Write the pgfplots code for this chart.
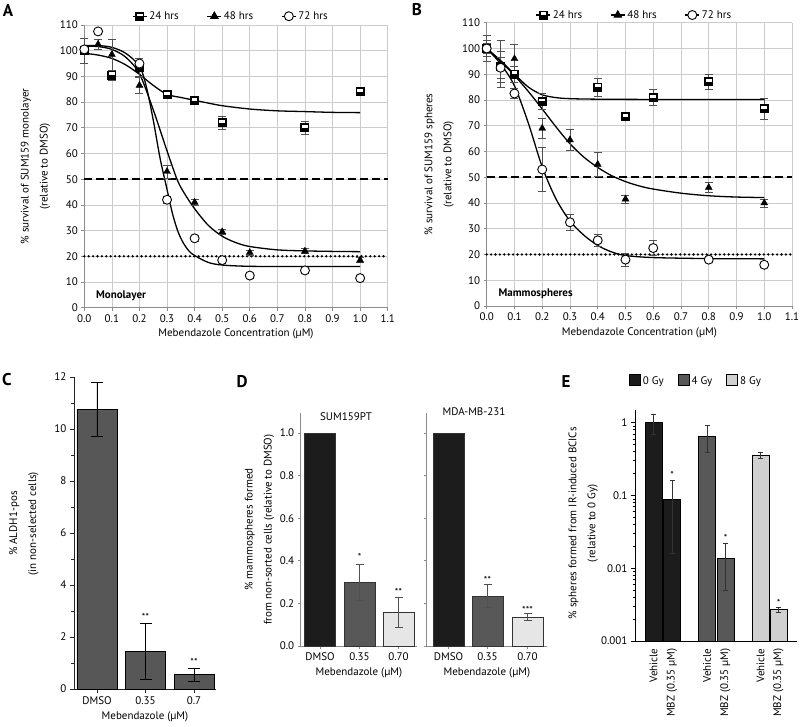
\documentclass[border=0pt]{standalone}
\usepackage{fontspec}
\setmainfont{PT Sans}
\usepackage{pgfplots}
\pgfplotsset{compat=1.18}
\definecolor{gridc}{HTML}{CCCCCC}
\definecolor{axc}{HTML}{8C8C8C}
\definecolor{errc}{HTML}{505050}
\definecolor{barblk}{HTML}{1C1C1C}
\definecolor{bardk}{HTML}{585858}
\definecolor{barlt}{HTML}{E6E6E6}
\definecolor{barmd}{HTML}{D0D0D0}
\definecolor{cbar}{HTML}{575757}

\pgfdeclareplotmark{halfsq}{%
  \pgfpathrectangle{\pgfpoint{-\pgfplotmarksize}{-\pgfplotmarksize}}{\pgfpoint{2\pgfplotmarksize}{2\pgfplotmarksize}}%
  \pgfsetfillcolor{black}\pgfusepath{fill}%
  \pgfpathrectangle{\pgfpoint{-0.62\pgfplotmarksize}{-0.05\pgfplotmarksize}}{\pgfpoint{1.24\pgfplotmarksize}{0.65\pgfplotmarksize}}%
  \pgfsetfillcolor{white}\pgfusepath{fill}%
}

\pgfkeys{/pgf/number format/assume math mode=true}

\pgfplotsset{
  base/.style={scale only axis, anchor=south west, clip=false,
    tick label style={font=\fontsize{11}{13}\selectfont},
    label style={font=\fontsize{11}{19}\selectfont},
    tick align=outside},
  curve/.style={black, line width=1.3pt, smooth, forget plot},
  ebar/.style={error bars/y dir=both, error bars/y explicit,
    error bars/error bar style={errc, line width=0.6pt},
    error bars/error mark options={errc, line width=0.6pt, mark size=4pt, rotate=90}},
  m24/.style={only marks, mark=halfsq, mark size=4.5pt, forget plot, ebar},
  m48/.style={only marks, mark=triangle*, mark size=4pt, mark options={fill=black, draw=black}, forget plot, ebar},
  m72/.style={only marks, mark=*, mark size=4.5pt, mark options={fill=white, draw=black, line width=0.9pt}, forget plot, ebar},
  dose/.style={base, xmin=0, xmax=1.1, ymin=0, ymax=110,
    xtick={0,0.1,0.2,0.3,0.4,0.5,0.6,0.7,0.8,0.9,1.0,1.1},
    ytick={0,10,20,30,40,50,60,70,80,90,100,110},
    xticklabel style={/pgf/number format/.cd, fixed, fixed zerofill, precision=1},
    grid=major, grid style={gridc, line width=0.7pt},
    axis x line*=bottom, axis y line*=left,
    axis line style={axc, line width=0.9pt},
    tick style={axc, line width=0.7pt}, major tick length=3pt,
    xlabel={Mebendazole Concentration (µM)},
    legend style={draw=none, fill=none, legend columns=3, anchor=center,
      font=\fontsize{11}{13}\selectfont,
      /tikz/every even column/.append style={column sep=26pt}},
    legend image code/.code={\draw[mark repeat=2, mark phase=2, ##1] plot coordinates {(0pt,0pt) (7pt,0pt) (14pt,0pt)};},
  },
  barax/.style={base, axis x line*=bottom, axis y line*=left,
    ymin=0},
  bebar/.style={error bars/y dir=both, error bars/y explicit,
    error bars/error bar style={#1},
    error bars/error mark options={#1, rotate=90}},
}

\begin{document}
\begin{tikzpicture}[x=1pt,y=1pt]
\path[use as bounding box] (0,0) rectangle (800,727);

% ---------------- A ----------------
\begin{axis}[dose, at={(84.3pt,419.3pt)}, width=303.4pt, height=282.7pt,
  ylabel={\% survival of SUM159 monolayer\\(relative to DMSO)},
  ylabel style={align=center, at={(axis description cs:-0.161,0.5)}, anchor=center},
  legend style={at={(axis description cs:0.4835,1.031)}}]
\addlegendimage{black, line width=1.2pt, mark=halfsq, mark size=4.5pt}
\addlegendentry{24 hrs}
\addlegendimage{black, line width=1.2pt, mark=triangle*, mark size=4pt}
\addlegendentry{48 hrs}
\addlegendimage{black, line width=1.2pt, mark=*, mark size=4.5pt, mark options={fill=white, draw=black, line width=0.9pt}}
\addlegendentry{72 hrs}
\addplot[black, line width=2.4pt, dash pattern=on 8pt off 4pt, forget plot] coordinates {(0,50) (1.1,50)};
\addplot[black, line width=2.6pt, dash pattern=on 0pt off 4.4pt, line cap=round, forget plot] coordinates {(0,20) (1.1,20)};
\addplot[curve] coordinates {(0,99) (0.05,98.3) (0.1,97) (0.15,94.5) (0.2,90.8) (0.25,86.5) (0.3,83) (0.35,81.8) (0.4,80.7) (0.45,79.6) (0.5,78.6) (0.6,77.3) (0.7,76.6) (0.8,76.3) (0.9,76) (1.0,75.9)};
\addplot[curve] coordinates {(0,101.8) (0.05,101.6) (0.1,100.5) (0.15,97.5) (0.2,91) (0.25,77) (0.3,61) (0.336,50) (0.36,45) (0.4,38.5) (0.45,32) (0.5,27.8) (0.55,25.3) (0.6,23.8) (0.7,22.5) (0.8,22.1) (0.9,21.9) (1.0,21.8)};
\addplot[curve] coordinates {(0,102) (0.05,102) (0.1,101.3) (0.15,99) (0.2,94) (0.225,86) (0.25,73) (0.275,58) (0.3,46) (0.32,36.5) (0.34,29.5) (0.36,25) (0.38,22) (0.4,20.3) (0.45,17.6) (0.5,16.6) (0.6,16.1) (0.8,16) (1.0,16)};
\addplot[m24] coordinates {(0,100) +- (0,5) (0.1,90.5) +- (0,2) (0.2,93.5) +- (0,3.5) (0.3,83) +- (0,1) (0.4,80.5) +- (0,1) (0.5,72) +- (0,2.5) (0.8,70) +- (0,2.5) (1.0,84) +- (0,1)};
\addplot[m48] coordinates {(0,100) +- (0,1) (0.05,102.5) +- (0,2) (0.1,98.5) +- (0,6) (0.2,86.5) +- (0,3) (0.3,53) +- (0,2.5) (0.4,41) +- (0,1) (0.5,29.5) +- (0,1) (0.6,21.5) +- (0,1) (0.8,22) +- (0,1) (1.0,18.5) +- (0,1)};
\addplot[m72] coordinates {(0,100.5) +- (0,1) (0.05,107.5) +- (0,0) (0.2,95) +- (0,2) (0.3,42) +- (0,1.5) (0.4,27) +- (0,1) (0.5,18.5) +- (0,1) (0.6,12.5) +- (0,1) (0.8,14.5) +- (0,1) (1.0,11.5) +- (0,1)};
\node[anchor=west, font=\fontsize{11}{13}\bfseries\selectfont] at (axis cs:0.03,4.7) {Monolayer};
\end{axis}

% ---------------- B ----------------
\begin{axis}[dose, at={(486.7pt,421pt)}, width=305.3pt, height=283.3pt,
  ylabel={\% survival of SUM159 spheres\\(relative to DMSO)},
  ylabel style={align=center, at={(axis description cs:-0.156,0.5)}, anchor=center},
  legend style={at={(axis description cs:0.484,1.027)}}]
\addlegendimage{black, line width=1.2pt, mark=halfsq, mark size=4.5pt}
\addlegendentry{24 hrs}
\addlegendimage{black, line width=1.2pt, mark=triangle*, mark size=4pt}
\addlegendentry{48 hrs}
\addlegendimage{black, line width=1.2pt, mark=*, mark size=4.5pt, mark options={fill=white, draw=black, line width=0.9pt}}
\addlegendentry{72 hrs}
\addplot[black, line width=2.4pt, dash pattern=on 8pt off 4pt, forget plot] coordinates {(0,50) (1.1,50)};
\addplot[black, line width=2.6pt, dash pattern=on 0pt off 4.4pt, line cap=round, forget plot] coordinates {(0,20) (1.1,20)};
\addplot[curve] coordinates {(0,100) (0.05,95.3) (0.1,90) (0.15,85) (0.2,82) (0.25,80.9) (0.3,80.5) (0.4,80.3) (0.6,80.2) (1.0,80.2)};
\addplot[curve] coordinates {(0,100) (0.05,95) (0.1,89.5) (0.15,83.3) (0.2,76.5) (0.25,69.5) (0.3,63) (0.35,57.8) (0.4,53.8) (0.45,50.6) (0.5,48.3) (0.55,46.6) (0.6,45.4) (0.7,43.8) (0.8,42.8) (0.9,42.3) (1.0,42.1)};
\addplot[curve] coordinates {(0,100) (0.05,94) (0.1,85.5) (0.15,71) (0.2,54) (0.25,41.5) (0.3,33) (0.35,27.5) (0.4,23.5) (0.45,21) (0.5,19.6) (0.6,18.8) (0.8,18.4) (1.0,18.3)};
\addplot[m24] coordinates {(0,100) +- (0,5) (0.05,93) +- (0,6) (0.1,90) +- (0,3) (0.2,79.5) +- (0,3) (0.4,85) +- (0,3.5) (0.5,73.5) +- (0,1) (0.6,81) +- (0,3) (0.8,87) +- (0,3) (1.0,76.5) +- (0,4)};
\addplot[m48] coordinates {(0,100) +- (0,3) (0.05,94) +- (0,9) (0.1,96) +- (0,5.5) (0.2,69) +- (0,4) (0.3,64.5) +- (0,4) (0.4,55) +- (0,4.5) (0.5,41.5) +- (0,1.5) (0.8,46) +- (0,2) (1.0,40) +- (0,1.5)};
\addplot[m72] coordinates {(0,100) +- (0,2) (0.05,92.5) +- (0,4) (0.1,82.5) +- (0,2) (0.2,53) +- (0,8.5) (0.3,32.5) +- (0,3) (0.4,25.5) +- (0,2.5) (0.5,18) +- (0,2.5) (0.6,22.5) +- (0,3) (0.8,18) +- (0,1) (1.0,16) +- (0,1)};
\node[anchor=west, font=\fontsize{11}{13}\bfseries\selectfont] at (axis cs:0.03,4.7) {Mammospheres};
\end{axis}

% ---------------- C ----------------
\begin{axis}[barax, at={(74pt,38pt)}, width=142pt, height=312pt,
  xmin=74, xmax=216, ymax=12,
  axis line style={black!85, line width=0.9pt},
  ytick={0,2,4,6,8,10,12}, minor ytick={1,3,5,7,9,11},
  xtick={97,145.5,194}, xticklabels={DMSO,0.35,0.7},
  tick style={black!85, line width=0.7pt}, major tick length=4pt, minor tick length=2.5pt,
  xlabel={Mebendazole (µM)},
  ylabel={\% ALDH1-pos\\(in non-selected cells)},
  ylabel style={align=center, at={(axis description cs:-0.352,0.53)}, anchor=center}]
\addplot[ybar, bar width=40pt, bar shift=0pt, fill=cbar, draw=black, line width=0.8pt,
  bebar={black, line width=0.8pt, mark size=6pt}]
  coordinates {(97,10.75) +- (0,1.05) (145.5,1.44) += (0,1.07) -= (0,1.08) (194,0.55) += (0,0.23) -= (0,0.26)};
\node[font=\fontsize{10}{10}\selectfont] at (axis cs:145.5,2.78) {**};
\node[font=\fontsize{10}{10}\selectfont] at (axis cs:194,1.03) {**};
\end{axis}

% ---------------- D left ----------------
\begin{axis}[barax, at={(300.7pt,81pt)}, width=116.3pt, height=233pt,
  xmin=300.7, xmax=417, ymax=1.094,
  axis line style={axc, line width=0.9pt},
  ytick={0,0.2,0.4,0.6,0.8,1.0},
  yticklabel style={/pgf/number format/.cd, fixed, fixed zerofill, precision=1},
  xtick={320,359.5,398.5}, xticklabels={DMSO,0.35,0.70},
  tick style={axc, line width=0.7pt}, major tick length=3pt,
  xlabel={Mebendazole (µM)},
  every axis plot/.append style={ybar, bar width=31pt, bar shift=0pt, draw=black!80, line width=0.7pt,
    bebar={errc, line width=0.7pt, mark size=4pt}}]
\addplot[fill=barblk] coordinates {(320,1.0)};
\addplot[fill=bardk] coordinates {(359.5,0.298) += (0,0.084) -= (0,0.083)};
\addplot[fill=barlt] coordinates {(398.5,0.157) += (0,0.07) -= (0,0.071)};
\node[font=\fontsize{11}{13}\selectfont] at (axis cs:346,1.075) {SUM159PT};
\node[font=\fontsize{10}{10}\selectfont] at (axis cs:359.5,0.42) {*};
\node[font=\fontsize{10}{10}\selectfont] at (axis cs:398.5,0.255) {**};
\end{axis}
\node[rotate=90, align=center, font=\fontsize{11}{19}\selectfont] at (259.5,197.5)
  {\% mammospheres formed\\from non-sorted cells (relative to DMSO)};

% ---------------- D right ----------------
\begin{axis}[barax, at={(426.7pt,81pt)}, width=120.3pt, height=233pt,
  xmin=426.7, xmax=547, ymax=1.094,
  axis line style={axc, line width=0.9pt},
  ytick={0,0.2,0.4,0.6,0.8,1.0}, yticklabels={},
  xtick={448.5,487.5,527.5}, xticklabels={DMSO,0.35,0.70},
  tick style={axc, line width=0.7pt}, major tick length=3pt,
  xlabel={Mebendazole (µM)},
  every axis plot/.append style={ybar, bar width=31pt, bar shift=0pt, draw=black!80, line width=0.7pt,
    bebar={errc, line width=0.7pt, mark size=4pt}}]
\addplot[fill=barblk] coordinates {(448.5,1.0)};
\addplot[fill=bardk] coordinates {(487.5,0.235) += (0,0.055) -= (0,0.053)};
\addplot[fill=barlt] coordinates {(527.5,0.135) += (0,0.018) -= (0,0.016)};
\node[font=\fontsize{11}{13}\selectfont] at (axis cs:474,1.1) {MDA-MB-231};
\node[font=\fontsize{10}{10}\selectfont] at (axis cs:487.5,0.31) {**};
\node[font=\fontsize{10}{10}\selectfont] at (axis cs:527.5,0.17) {***};
\end{axis}

% ---------------- E ----------------
\begin{axis}[barax, at={(635pt,86pt)}, width=162pt, height=231pt,
  xmin=635, xmax=797, ymode=log, log origin=infty, ymin=0.001, ymax=1.5,
  axis line style={black, line width=0.9pt},
  ytick={0.001,0.01,0.1,1}, yticklabels={0.001,0.01,0.1,1},
  minor ytick={0.002,0.003,0.004,0.005,0.006,0.007,0.008,0.009,0.02,0.03,0.04,0.05,0.06,0.07,0.08,0.09,0.2,0.3,0.4,0.5,0.6,0.7,0.8,0.9},
  xtick={653.5,672,707,725.5,760.5,778.5},
  xticklabels={Vehicle,MBZ (0.35 µM),Vehicle,MBZ (0.35 µM),Vehicle,MBZ (0.35 µM)},
  xticklabel style={rotate=90, anchor=east},
  xtick style={draw=none},
  ytick style={black, line width=0.7pt}, major tick length=4pt, minor tick length=2.5pt,
  ylabel={\% spheres formed from IR-induced BCICs\\(relative to 0 Gy)},
  ylabel style={align=center, at={(axis description cs:-0.32,0.51)}, anchor=center},
  legend style={at={(axis description cs:0.377,1.126)}, anchor=center, draw=none, fill=none, legend columns=3,
    font=\fontsize{11}{13}\selectfont, /tikz/every even column/.append style={column sep=12pt}},
  every axis plot/.append style={ybar, bar width=17pt, bar shift=0pt, draw=black, line width=0.8pt, forget plot,
    bebar={black!80, line width=0.7pt, mark size=2.5pt}}]
\addlegendimage{legend image code/.code={\draw[fill=barblk, draw=black, line width=0.8pt] (0pt,-5pt) rectangle (11pt,6pt);}}
\addlegendentry{0 Gy}
\addlegendimage{legend image code/.code={\draw[fill=bardk, draw=black, line width=0.8pt] (0pt,-5pt) rectangle (11pt,6pt);}}
\addlegendentry{4 Gy}
\addlegendimage{legend image code/.code={\draw[fill=barmd, draw=black, line width=0.8pt] (0pt,-5pt) rectangle (11pt,6pt);}}
\addlegendentry{8 Gy}
\addplot[fill=barblk] coordinates {(653.5,1.0) +- (0,0.3) (672,0.088) +- (0,0.072)};
\addplot[fill=bardk] coordinates {(707,0.65) +- (0,0.26) (725.5,0.0135) +- (0,0.0085)};
\addplot[fill=barmd] coordinates {(760.5,0.36) +- (0,0.035) (778.5,0.0027) +- (0,0.0002)};
\node[font=\fontsize{10}{10}\selectfont] at (axis cs:672,0.19) {*};
\node[font=\fontsize{10}{10}\selectfont] at (axis cs:725.5,0.026) {*};
\node[font=\fontsize{10}{10}\selectfont] at (axis cs:778.5,0.0033) {*};
\end{axis}

% panel labels
\node[font=\fontsize{17}{17}\bfseries\selectfont] at (8,716) {A};
\node[font=\fontsize{17}{17}\bfseries\selectfont] at (417,717) {B};
\node[font=\fontsize{17}{17}\bfseries\selectfont] at (7,347) {C};
\node[font=\fontsize{17}{17}\bfseries\selectfont] at (242,345.5) {D};
\node[font=\fontsize{17}{17}\bfseries\selectfont] at (566,345.5) {E};
\end{tikzpicture}
\end{document}
